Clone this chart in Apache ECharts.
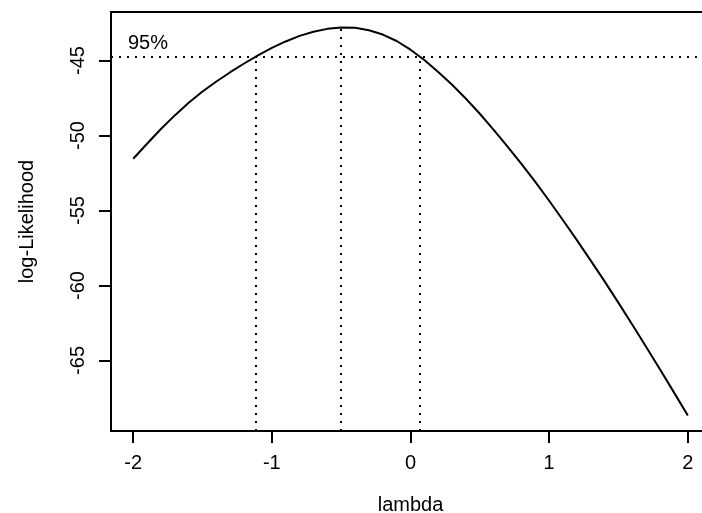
<!DOCTYPE html>
<html>
<head>
<meta charset="utf-8">
<script src="https://cdn.jsdelivr.net/npm/echarts@6/dist/echarts.min.js"></script>
<style>
  html, body { margin: 0; padding: 0; background: #fff; }
  #chart { width: 702px; height: 513px; }
</style>
</head>
<body>
<div id="chart"></div>
<script>
// Box-Cox profile log-likelihood over a grid of lambda values
const lambdaGrid = [-2.0, -1.9, -1.8, -1.7, -1.6, -1.5, -1.4, -1.3, -1.2, -1.1,
                    -1.0, -0.9, -0.8, -0.7, -0.6, -0.5, -0.4, -0.3, -0.2, -0.1,
                     0.0,  0.1,  0.2,  0.3,  0.4,  0.5,  0.6,  0.7,  0.8,  0.9,
                     1.0,  1.1,  1.2,  1.3,  1.4,  1.5,  1.6,  1.7,  1.8,  1.9, 2.0];
const logLik = [-51.55, -50.55, -49.57, -48.66, -47.82, -47.07, -46.40, -45.78, -45.20, -44.66,
                -44.16, -43.73, -43.36, -43.08, -42.89, -42.80, -42.82, -42.98, -43.27, -43.70,
                -44.28, -44.97, -45.76, -46.62, -47.55, -48.55, -49.62, -50.74, -51.90, -53.10,
                -54.35, -55.65, -56.98, -58.34, -59.73, -61.16, -62.62, -64.10, -65.60, -67.13, -68.67];

// maximum-likelihood lambda and the 95% interval limits
const lambdaHat = -0.506;
const maxLogLik = -42.80;
const ciLower = -1.114;
const ciUpper = 0.065;
const ciCut = -44.72;   // maxLogLik - qchisq(0.95, 1) / 2
const ciLabel = '95%';

const xTicks = [-2, -1, 0, 1, 2];
const yTicks = [-65, -60, -55, -50, -45];
const xName = 'lambda';
const yName = 'log-Likelihood';

// R-style axis ranges: data range widened by 4% on each side
function padRange(lo, hi) {
  const d = (hi - lo) * 0.04;
  return [lo - d, hi + d];
}
const xRange = padRange(Math.min(...lambdaGrid), Math.max(...lambdaGrid));
const yRange = padRange(Math.min(...logLik), Math.max(...logLik));

const FONT = '"Liberation Sans", Arial, Helvetica, sans-serif';
const FS = 20;
const dotted = { color: '#000', width: 2, type: [2, 6], cap: 'butt' };

const chart = echarts.init(document.getElementById('chart'), null, { renderer: 'canvas' });
chart.setOption({
  animation: false,
  backgroundColor: '#fff',
  textStyle: { fontFamily: FONT, color: '#000' },
  grid: {
    left: 111, top: 12, width: 599, height: 419,
    containLabel: false, outerBoundsMode: 'none',
    show: true, borderColor: '#000', borderWidth: 2, backgroundColor: 'transparent'
  },
  xAxis: {
    type: 'value',
    min: xRange[0], max: xRange[1],
    name: xName, nameLocation: 'middle', nameGap: 64,
    nameTextStyle: { fontFamily: FONT, fontSize: FS, color: '#000' },
    axisLine: { show: false, onZero: false },
    splitLine: { show: false },
    axisTick: { show: true, length: 12, lineStyle: { color: '#000', width: 2 }, customValues: xTicks },
    axisLabel: { show: true, margin: 22, fontFamily: FONT, fontSize: FS, color: '#000', customValues: xTicks }
  },
  yAxis: {
    type: 'value',
    min: yRange[0], max: yRange[1],
    name: yName, nameLocation: 'middle', nameGap: 74, nameRotate: 90,
    nameTextStyle: { fontFamily: FONT, fontSize: FS, color: '#000' },
    axisLine: { show: false, onZero: false },
    splitLine: { show: false },
    axisTick: { show: true, length: 12, lineStyle: { color: '#000', width: 2 }, customValues: yTicks },
    axisLabel: { show: true, rotate: 90, margin: 23, fontFamily: FONT, fontSize: FS, color: '#000', customValues: yTicks }
  },
  series: [{
    type: 'line',
    data: lambdaGrid.map((l, i) => [l, logLik[i]]),
    smooth: false,
    symbol: 'none',
    lineStyle: { color: '#000', width: 2, join: 'round' },
    silent: true,
    markLine: {
      silent: true,
      symbol: 'none',
      lineStyle: dotted,
      label: { show: false },
      data: [
        {
          yAxis: ciCut,
          label: {
            show: true, formatter: ciLabel, position: 'insideStartTop',
            distance: [17, 3], fontFamily: FONT, fontSize: FS, color: '#000'
          }
        },
        [{ coord: [ciLower, yRange[0]] }, { coord: [ciLower, ciCut] }],
        [{ coord: [lambdaHat, yRange[0]] }, { coord: [lambdaHat, maxLogLik] }],
        [{ coord: [ciUpper, yRange[0]] }, { coord: [ciUpper, ciCut] }]
      ]
    }
  }]
});
</script>
</body>
</html>
